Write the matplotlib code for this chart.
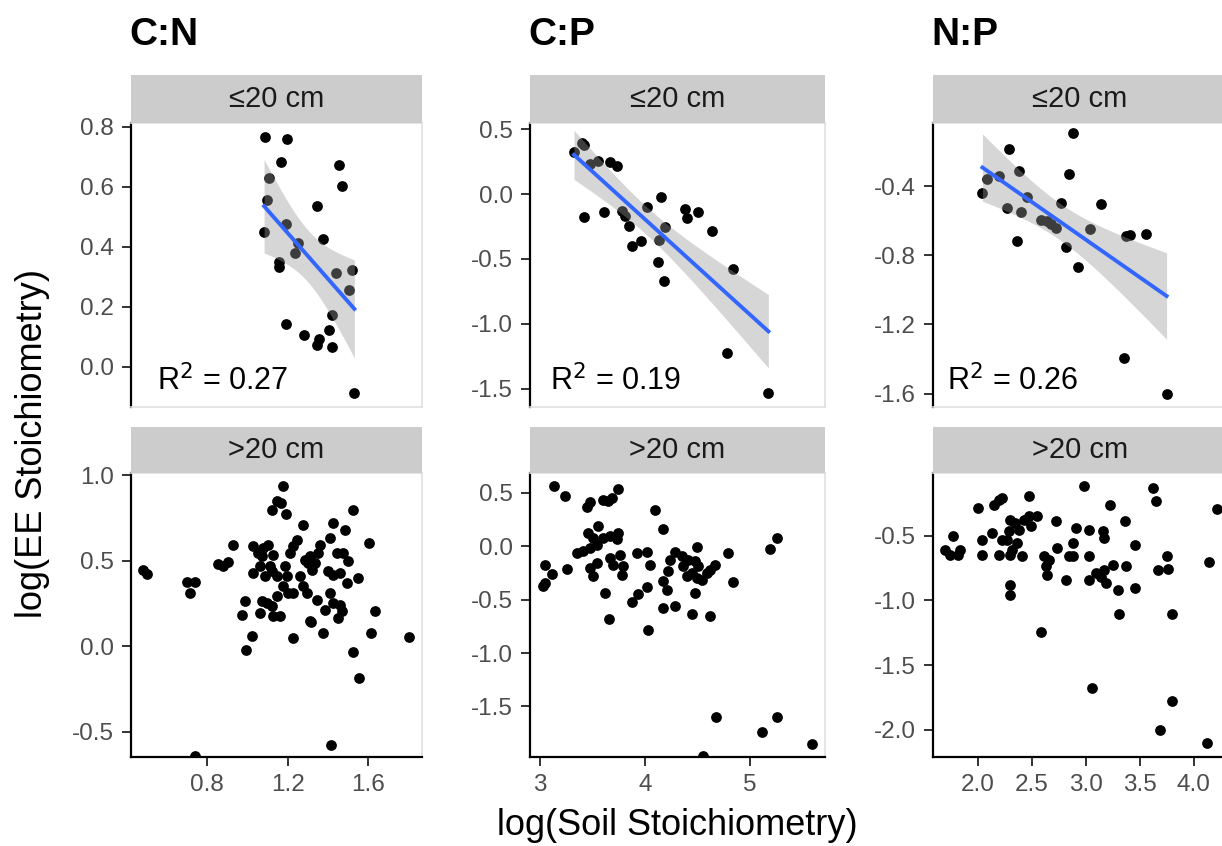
import numpy as np
import matplotlib
matplotlib.use("Agg")
import matplotlib.pyplot as plt

plt.rcParams['font.family'] = ['Liberation Sans', 'DejaVu Sans']

# column titles, strip labels and R2 annotations
ratios = ['C:N', 'C:P', 'N:P']
depths = ['\u226420 cm', '>20 cm']
r2_labels = ['R$^2$ = 0.27', 'R$^2$ = 0.19', 'R$^2$ = 0.26']

# ---- <=20 cm data ----
cn_top_x = [1.089, 1.196, 1.166, 1.110, 1.097, 1.084, 1.191, 1.250, 1.237, 1.156, 1.159, 1.345, 1.377,
            1.455, 1.471, 1.440, 1.521, 1.506, 1.422, 1.405, 1.356, 1.345, 1.422, 1.283, 1.191, 1.531]
cn_top_y = [0.767, 0.760, 0.683, 0.630, 0.556, 0.450, 0.475, 0.413, 0.378, 0.350, 0.333, 0.537, 0.426,
            0.672, 0.602, 0.313, 0.322, 0.256, 0.172, 0.122, 0.094, 0.072, 0.067, 0.106, 0.141, -0.089]

cp_top_x = [3.324, 3.397, 3.420, 3.476, 3.556, 3.667, 3.730, 3.422, 3.610, 3.778, 3.810, 3.848, 3.873,
            3.959, 4.016, 4.149, 4.190, 4.136, 4.127, 4.184, 4.381, 4.403, 4.502, 4.635, 4.841, 4.778, 5.175]
cp_top_y = [0.326, 0.396, 0.380, 0.234, 0.253, 0.250, 0.216, -0.177, -0.135, -0.130, -0.169, -0.247, -0.403,
            -0.359, -0.099, -0.021, -0.255, -0.351, -0.521, -0.669, -0.117, -0.182, -0.135, -0.281, -0.578,
            -1.224, -1.536]

np_top_x = [2.043, 2.084, 2.193, 2.286, 2.379, 2.458, 2.271, 2.405, 2.364, 2.582, 2.638, 2.676, 2.722,
            2.769, 2.841, 2.884, 2.816, 2.931, 3.043, 3.143, 3.370, 3.414, 3.557, 3.355, 3.750]
np_top_y = [-0.441, -0.361, -0.343, -0.187, -0.314, -0.465, -0.527, -0.549, -0.719, -0.598, -0.600, -0.621,
            -0.641, -0.498, -0.328, -0.089, -0.754, -0.866, -0.647, -0.504, -0.690, -0.680, -0.676, -1.394,
            -1.600]

# ---- >20 cm data ----
cn_bot_x = [0.486, 0.503, 0.700, 0.742, 0.717, 0.857, 0.879, 0.904, 0.929, 0.990, 0.976, 1.026, 0.995,
            1.179, 1.122, 1.147, 1.168, 1.191, 1.031, 1.052, 1.080, 1.105, 1.072, 1.130,
            1.031, 1.064, 1.089, 1.122, 1.147, 1.113, 1.072, 1.097, 1.147, 1.122, 1.064, 1.130, 1.163,
            1.188, 1.196, 1.212, 1.229, 1.249, 1.179, 1.204, 1.229, 1.275, 1.262, 1.278, 1.295,
            1.311, 1.336, 1.320, 1.352, 1.361, 1.303, 1.287, 1.345, 1.311, 1.377, 1.386, 1.410, 1.427,
            1.410, 1.427, 1.485, 1.444, 1.476, 1.501, 1.402, 1.427, 1.460, 1.493, 1.452, 1.460, 1.468,
            1.526, 1.605, 1.551, 1.633, 1.612, 1.803, 1.526, 1.556, 1.226, 1.316, 1.415, 0.742]
cn_bot_y = [0.449, 0.425, 0.374, 0.374, 0.312, 0.483, 0.468, 0.491, 0.595, 0.263, 0.185, 0.058, -0.023,
            0.936, 0.800, 0.848, 0.838, 0.774, 0.585, 0.546, 0.575, 0.595, 0.526, 0.536,
            0.429, 0.468, 0.409, 0.439, 0.409, 0.468, 0.263, 0.254, 0.292, 0.234, 0.195, 0.175, 0.180,
            0.468, 0.409, 0.546, 0.585, 0.620, 0.351, 0.312, 0.312, 0.712, 0.409, 0.351, 0.312,
            0.526, 0.487, 0.448, 0.546, 0.595, 0.487, 0.507, 0.273, 0.146, 0.078, 0.215, 0.312, 0.254,
            0.634, 0.722, 0.683, 0.546, 0.546, 0.497, 0.439, 0.419, 0.429, 0.371, 0.166, 0.244, 0.205,
            0.800, 0.605, 0.400, 0.209, 0.078, 0.053, -0.035, -0.185, 0.049, 0.140, -0.575, -0.643]

cp_bot_x = [3.133, 3.238, 3.048, 3.111, 3.032, 3.048, 3.254, 3.444, 3.476, 3.603, 3.651, 3.683, 3.746,
            3.460, 3.555, 3.508, 3.603, 3.667, 3.746, 3.730, 3.540, 3.476, 3.413, 3.350,
            3.476, 3.508, 3.540, 3.667, 3.762, 3.698, 3.794, 3.778,
            3.619, 3.660, 3.873, 3.937, 4.016, 4.048, 3.921, 4.016, 4.095, 4.174,
            4.031, 4.168, 4.286, 4.174, 4.206, 4.222, 4.238, 4.286, 4.349,
            4.365, 4.413, 4.492, 4.476, 4.508, 4.397, 4.444, 4.492, 4.540, 4.587, 4.619, 4.667, 4.476,
            4.444, 4.619, 4.794, 4.841, 5.190, 5.254, 4.673, 5.117, 5.254, 5.594, 4.549]
cp_bot_y = [0.562, 0.469, -0.172, -0.256, -0.375, -0.343, -0.212, 0.369, 0.412, 0.437, 0.422, 0.453, 0.538,
            0.125, 0.187, 0.078, 0.078, 0.094, 0.125, 0.069, 0.016, -0.015, -0.047, -0.062,
            -0.203, -0.281, -0.156, -0.109, -0.078, -0.172, -0.187, -0.265,
            -0.437, -0.680, -0.525, -0.443, -0.381, -0.178, -0.062, -0.053, 0.337, 0.166,
            -0.787, -0.578, -0.562, -0.328, -0.406, -0.234, -0.125, -0.056, -0.094,
            -0.187, -0.125, -0.009, -0.141, -0.187, -0.281, -0.250, -0.296, -0.312, -0.250, -0.218, -0.172,
            -0.437, -0.634, -0.650, -0.062, -0.334, -0.022, 0.078, -1.603, -1.743, -1.603, -1.853, -1.968]

np_bot_x = [1.694, 1.741, 1.819, 1.835, 1.766, 2.006, 2.037, 2.037, 2.131, 2.146, 2.193, 2.224, 2.193, 2.224,
            2.302, 2.286, 2.349, 2.379, 2.426, 2.473, 2.489, 2.551, 2.271, 2.318, 2.411, 2.302, 2.364, 2.473,
            2.302, 2.302, 2.613, 2.660, 2.629, 2.645, 2.738, 2.722, 2.987, 2.847, 2.816, 2.884, 2.909, 3.034,
            2.879, 3.034, 3.034, 3.096, 3.143, 3.174, 3.190, 3.159, 3.168, 3.221, 3.252, 3.299, 3.377, 3.361,
            3.454, 3.454, 3.305, 2.589, 3.059, 3.620, 3.650, 3.673, 3.750, 3.760, 4.140, 4.218, 3.804,
            3.797, 3.688, 4.124]
np_bot_y = [-0.608, -0.647, -0.647, -0.608, -0.500, -0.286, -0.531, -0.647, -0.479, -0.260, -0.221, -0.208,
            -0.647, -0.531, -0.376, -0.467, -0.402, -0.454, -0.376, -0.350, -0.428, -0.350, -0.531, -0.608,
            -0.660, -0.647, -0.556, -0.191, -0.879, -0.956, -0.660, -0.686, -0.737, -0.801, -0.595, -0.389,
            -0.119, -0.660, -0.845, -0.556, -0.440, -0.453, -0.660, -0.660, -0.840, -0.788, -0.815, -0.763,
            -0.866, -0.467, -0.518, -0.260, -0.724, -0.917, -0.737, -0.384, -0.570, -0.904, -1.105, -1.247,
            -1.677, -0.131, -0.235, -0.763, -0.660, -0.757, -0.706, -0.291, -1.105, -1.775, -2.000, -2.105]

top_data = [(cn_top_x, cn_top_y), (cp_top_x, cp_top_y), (np_top_x, np_top_y)]
bot_data = [(cn_bot_x, cn_bot_y), (cp_bot_x, cp_bot_y), (np_bot_x, np_bot_y)]

# axis limits and ticks
xlims = [(0.425, 1.866), (2.905, 5.714), (1.585, 4.31)]
xticks = [[0.8, 1.2, 1.6], [3, 4, 5], [2.0, 2.5, 3.0, 3.5, 4.0]]
xticklabels = [['0.8', '1.2', '1.6'], ['3', '4', '5'], ['2.0', '2.5', '3.0', '3.5', '4.0']]
ylims_top = [(-0.134, 0.812), (-1.64, 0.547), (-1.678, -0.034)]
ylims_bot = [(-0.647, 1.014), (-1.974, 0.687), (-2.21, -0.015)]
yticks_top = [[0.0, 0.2, 0.4, 0.6, 0.8], [-1.5, -1.0, -0.5, 0.0, 0.5], [-1.6, -1.2, -0.8, -0.4]]
yticks_bot = [[-0.5, 0.0, 0.5, 1.0], [-1.5, -1.0, -0.5, 0.0, 0.5], [-2.0, -1.5, -1.0, -0.5]]

W, H = 1222, 846
fig = plt.figure(figsize=(W / 100, H / 100), dpi=100)

col_left = [131, 530, 933]
col_w = [291, 295, 294]
rows = [(123, 407, 75), (473, 757, 427)]  # panel top, panel bottom, strip top
r2_xpos = [0.089, 0.068, 0.047]


def fx(px):
    return px / W


def fy(py):
    return 1 - py / H


def add_fit(ax, x, y):
    x = np.array(x)
    y = np.array(y)
    n = len(x)
    b, a = np.polyfit(x, y, 1)
    xs = np.linspace(x.min(), x.max(), 80)
    yhat = a + b * xs
    resid = y - (a + b * x)
    s = np.sqrt(np.sum(resid ** 2) / (n - 2))
    sxx = np.sum((x - x.mean()) ** 2)
    se = s * np.sqrt(1 / n + (xs - x.mean()) ** 2 / sxx)
    t = 2.06
    ax.fill_between(xs, yhat - t * se, yhat + t * se, color='#999999', alpha=0.4, lw=0, zorder=3)
    ax.plot(xs, yhat, color='#3366FF', lw=2.8, zorder=4)


tick_col = '#4D4D4D'
for r, (ptop, pbot, stop) in enumerate(rows):
    for c in range(3):
        ax = fig.add_axes([fx(col_left[c]), fy(pbot), fx(col_w[c]), (pbot - ptop) / H])
        x, y = (top_data if r == 0 else bot_data)[c]
        ax.scatter(x, y, s=60, color='black', lw=0, zorder=2)
        if r == 0:
            add_fit(ax, x, y)
            ax.text(r2_xpos[c], 0.06, r2_labels[c], transform=ax.transAxes,
                    fontsize=22, ha='left', va='baseline', zorder=5)
        ax.set_xlim(*xlims[c])
        ax.set_ylim(*(ylims_top if r == 0 else ylims_bot)[c])
        yt = (yticks_top if r == 0 else yticks_bot)[c]
        ax.set_yticks(yt)
        ax.set_yticklabels([f'{v:.1f}' for v in yt])
        ax.tick_params(axis='y', labelsize=17.5, labelcolor=tick_col, color='#333333',
                       length=6.5, width=1.4, pad=6)
        for side in ['top', 'right']:
            ax.spines[side].set_color('#E0E0E0')
            ax.spines[side].set_linewidth(1.2)
        ax.spines['left'].set_color('black')
        ax.spines['left'].set_linewidth(1.6)
        if r == 0:
            ax.spines['bottom'].set_color('#E0E0E0')
            ax.spines['bottom'].set_linewidth(1.2)
            ax.set_xticks([])
        else:
            ax.spines['bottom'].set_color('black')
            ax.spines['bottom'].set_linewidth(1.6)
            ax.set_xticks(xticks[c])
            ax.set_xticklabels(xticklabels[c])
            ax.tick_params(axis='x', labelsize=17.5, labelcolor=tick_col, color='#333333',
                           length=6.5, width=1.4, pad=6)

        # facet strip
        sax = fig.add_axes([fx(col_left[c]), fy(ptop), fx(col_w[c]), (ptop - stop) / H])
        sax.set_facecolor('#CCCCCC')
        sax.set_xticks([])
        sax.set_yticks([])
        for sp in sax.spines.values():
            sp.set_visible(False)
        sax.text(0.5, 0.5, depths[r], transform=sax.transAxes, ha='center', va='center',
                 fontsize=21, color='#1A1A1A')

# column titles
for c in range(3):
    fig.text(fx(col_left[c] - 2), fy(35), ratios[c], fontsize=28, fontweight='bold',
             ha='left', va='center')

fig.text(fx(33), fy(443), 'log(EE Stoichiometry)', rotation=90, fontsize=26,
         ha='center', va='center')
fig.text(fx(677), fy(835), 'log(Soil Stoichiometry)', fontsize=26, ha='center', va='baseline')

fig.savefig('out.png', dpi=100)
